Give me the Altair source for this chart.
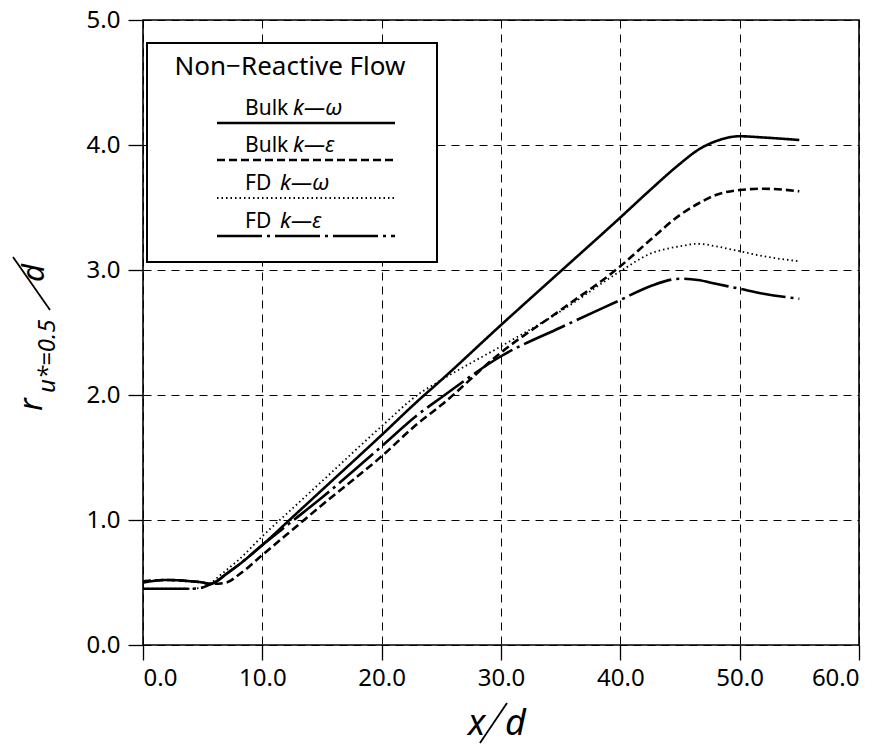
import altair as alt
import pandas as pd

# ---- data ----
x_vals = [0, 2, 4, 5, 5.5, 6, 7, 8, 10, 12.5, 15, 20, 23, 25, 30, 35, 40, 42.5, 45, 46.5, 48, 50, 52, 55]
bulk_kw = [0.50, 0.52, 0.51, 0.50, 0.49, 0.50, 0.57, 0.64, 0.80, 1.02, 1.24, 1.68, 1.95, 2.12, 2.56, 2.99, 3.42, 3.64, 3.85, 3.96, 4.03, 4.07, 4.06, 4.04]
bulk_ke = [0.51, 0.52, 0.51, 0.50, 0.49, 0.49, 0.50, 0.56, 0.72, 0.92, 1.12, 1.51, 1.77, 1.92, 2.34, 2.68, 3.03, 3.24, 3.44, 3.53, 3.60, 3.64, 3.65, 3.63]
fd_kw = [0.45, 0.45, 0.45, 0.46, 0.48, 0.52, 0.60, 0.68, 0.87, 1.09, 1.31, 1.75, 2.00, 2.12, 2.39, 2.67, 2.99, 3.13, 3.19, 3.21, 3.19, 3.15, 3.11, 3.07]
fd_ke = [0.45, 0.45, 0.45, 0.46, 0.48, 0.50, 0.57, 0.64, 0.80, 0.99, 1.18, 1.59, 1.84, 1.98, 2.31, 2.54, 2.76, 2.87, 2.93, 2.92, 2.89, 2.85, 2.81, 2.77]

series_names = ["Bulk k-ω", "Bulk k-ε", "FD k-ω", "FD k-ε"]
series_values = [bulk_kw, bulk_ke, fd_kw, fd_ke]
legend_title = "Non−Reactive Flow"
legend_plain = ["Bulk", "Bulk", "FD", "FD"]
legend_italic = ["k—ω", "k—ε", "k—ω", "k—ε"]

x_ticks = [0, 10, 20, 30, 40, 50, 60]
y_ticks = [0, 1, 2, 3, 4, 5]

FONT = "Noto Sans"

# styles per series
dashes = [[1, 0], [8, 4], [1.5, 3], [45, 5, 3, 5]]
widths = [2.6, 2.6, 1.8, 2.6]

xs = alt.Scale(domain=[0, 60], nice=False, zero=False)
ys = alt.Scale(domain=[0, 5], nice=False, zero=False)

x_axis = alt.Axis(values=x_ticks, format=".1f", title=None, grid=True, domain=False,
                  tickSize=15, labelPadding=6)
y_axis = alt.Axis(values=y_ticks, format=".1f", title=None, grid=True, domain=False,
                  tickSize=15, labelPadding=8)

layers = []
for i, (name, vals) in enumerate(zip(series_names, series_values)):
    df = pd.DataFrame({"x": x_vals, "y": vals, "series": name})
    layers.append(
        alt.Chart(df).mark_line(color="black", strokeWidth=widths[i],
                                strokeDash=dashes[i], interpolate="monotone")
        .encode(x=alt.X("x:Q", scale=xs, axis=x_axis),
                y=alt.Y("y:Q", scale=ys, axis=y_axis))
    )

one = pd.DataFrame({"a": [0]})

# legend box
layers.append(
    alt.Chart(one).mark_rect(fill="white", stroke="black", strokeWidth=2)
    .encode(x=alt.value(4), x2=alt.value(294), y=alt.value(23), y2=alt.value(242))
)
layers.append(
    alt.Chart(one).mark_text(text=legend_title, font=FONT, fontSize=26, align="center",
                             baseline="middle", color="black")
    .encode(x=alt.value(147), y=alt.value(47))
)
base_y = [95, 132, 170, 208]
line_y = [103, 140, 178, 216]
ital_x = [150, 150, 137, 137]
for i in range(4):
    layers.append(
        alt.Chart(one).mark_text(text=legend_plain[i], font=FONT, fontSize=21, align="left",
                                 baseline="alphabetic", color="black")
        .encode(x=alt.value(102), y=alt.value(base_y[i]))
    )
    layers.append(
        alt.Chart(one).mark_text(text=legend_italic[i], font=FONT, fontSize=22, fontStyle="italic",
                                 align="left", baseline="alphabetic", color="black")
        .encode(x=alt.value(ital_x[i]), y=alt.value(base_y[i]))
    )
    layers.append(
        alt.Chart(one).mark_rule(color="black", strokeWidth=widths[i], strokeDash=dashes[i])
        .encode(x=alt.value(74), x2=alt.value(252), y=alt.value(line_y[i]))
    )

# x axis title: x/d
layers.append(
    alt.Chart(one).mark_text(text="x", font=FONT, fontSize=36, fontStyle="italic", align="left",
                             baseline="alphabetic", color="black")
    .encode(x=alt.value(325), y=alt.value(715))
)
layers.append(
    alt.Chart(one).mark_rule(color="black", strokeWidth=1.8)
    .encode(x=alt.value(337), y=alt.value(723), x2=alt.value(364), y2=alt.value(683))
)
layers.append(
    alt.Chart(one).mark_text(text="d", font=FONT, fontSize=36, fontStyle="italic", align="left",
                             baseline="alphabetic", color="black")
    .encode(x=alt.value(362), y=alt.value(715))
)

# y axis title: r_{u*=0.5}/d (rotated)
layers.append(
    alt.Chart(one).mark_text(text="r", font=FONT, fontSize=32, fontStyle="italic", align="left",
                             baseline="alphabetic", angle=270, color="black")
    .encode(x=alt.value(-101), y=alt.value(391))
)
layers.append(
    alt.Chart(one).mark_text(text="u*=0.5", font=FONT, fontSize=24, fontStyle="italic", align="left",
                             baseline="alphabetic", angle=270, color="black")
    .encode(x=alt.value(-88), y=alt.value(373))
)
layers.append(
    alt.Chart(one).mark_rule(color="black", strokeWidth=1.8)
    .encode(x=alt.value(-93), y=alt.value(290), x2=alt.value(-130), y2=alt.value(237))
)
layers.append(
    alt.Chart(one).mark_text(text="d", font=FONT, fontSize=31, fontStyle="italic", align="left",
                             baseline="alphabetic", angle=270, color="black")
    .encode(x=alt.value(-99), y=alt.value(262))
)

chart = (
    alt.layer(*layers)
    .properties(width=716, height=625, background="white",
                autosize=alt.AutoSizeParams(type="none"),
                padding={"left": 143, "top": 20, "right": 29, "bottom": 102})
    .configure_view(stroke="black", strokeWidth=1.6)
    .configure_axis(labelFont=FONT, labelFontSize=24, labelColor="black",
                    tickColor="black", tickWidth=1.3,
                    gridColor="black", gridDash=[8, 6], gridWidth=1, gridOpacity=1)
)

chart.save("out.html", embed_options={"renderer": "svg", "actions": False})
